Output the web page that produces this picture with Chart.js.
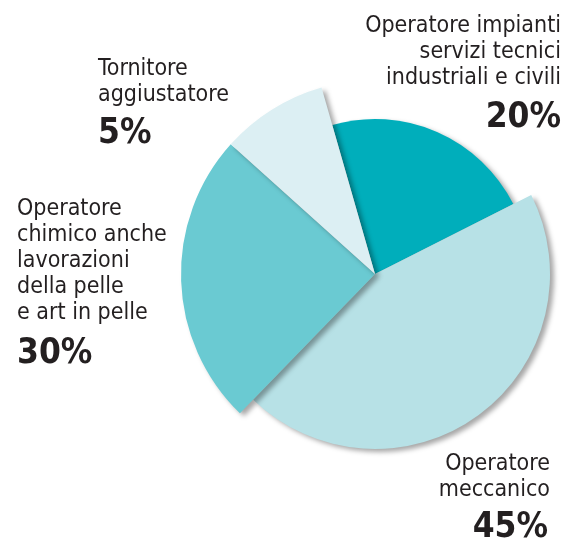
<!DOCTYPE html>
<html>
<head>
<meta charset="utf-8">
<script src="https://cdn.jsdelivr.net/npm/chart.js@4"></script>
<style>
  html, body { margin: 0; padding: 0; background: #fff; }
  #wrap { width: 569px; height: 541px; }
</style>
</head>
<body>
<div id="wrap"><canvas id="pieChart"></canvas></div>
<script>
// slices, clockwise starting near the top
const categories = [
  "Operatore impianti servizi tecnici industriali e civili",
  "Operatore meccanico",
  "Operatore chimico anche lavorazioni della pelle e art in pelle",
  "Tornitore aggiustatore"
];
// slice sizes as drawn in the picture
const sliceShares = [22, 44.7, 24.4, 8.9];
// printed percentages
const percentLabels = ["20%", "45%", "30%", "5%"];
// label text lines
const labelLines = [
  ["Operatore impianti", "servizi tecnici", "industriali e civili"],
  ["Operatore", "meccanico"],
  ["Operatore", "chimico anche", "lavorazioni", "della pelle", "e art in pelle"],
  ["Tornitore", "aggiustatore"]
];

const colors = ["#00aebb", "#b7e1e6", "#6acad2", "#dceff3"];
const radiusFactor = [155 / 194, 175 / 194, 1, 1];

// where each text block goes (x, first baseline, align, percent baseline)
const labelLayout = [
  { x: 561, y: 32, align: "right", py: 127 },
  { x: 550, y: 470, align: "right", py: 537, px: 548 },
  { x: 17, y: 215, align: "left", py: 363 },
  { x: 98, y: 75, align: "left", py: 143 }
];
const lineGap = 26;
const textFont = '23px "DejaVu Sans Condensed", "DejaVu Sans", sans-serif';
const pctFont = 'bold 35px "DejaVu Sans Condensed", "DejaVu Sans", sans-serif';

// each slice gets its own outer radius
const radiusPlugin = {
  id: "sliceRadius",
  afterDatasetUpdate(chart, args) {
    const meta = chart.getDatasetMeta(args.index);
    meta.data.forEach((arc, i) => {
      arc.outerRadius = arc.outerRadius * radiusFactor[i];
    });
  }
};

// soft drop shadow under the slices
const shadowPlugin = {
  id: "sliceShadow",
  beforeDatasetsDraw(chart) {
    const ctx = chart.ctx;
    ctx.save();
    ctx.shadowColor = "rgba(0,0,0,0.35)";
    ctx.shadowBlur = 5;
    ctx.shadowOffsetX = 4;
    ctx.shadowOffsetY = 3;
  },
  afterDatasetsDraw(chart) {
    chart.ctx.restore();
  }
};

const textPlugin = {
  id: "sliceText",
  afterDraw(chart) {
    const ctx = chart.ctx;
    ctx.save();
    ctx.fillStyle = "#231f20";
    ctx.textBaseline = "alphabetic";
    labelLines.forEach((lines, i) => {
      const pos = labelLayout[i];
      ctx.textAlign = pos.align;
      ctx.font = textFont;
      lines.forEach((line, j) => {
        ctx.fillText(line, pos.x, pos.y + j * lineGap);
      });
      ctx.font = pctFont;
      ctx.fillText(percentLabels[i], pos.px || pos.x, pos.py);
    });
    ctx.restore();
  }
};

new Chart(document.getElementById("pieChart").getContext("2d"), {
  type: "pie",
  data: {
    labels: categories,
    datasets: [{
      data: sliceShares,
      backgroundColor: colors,
      borderWidth: 0,
      hoverOffset: 0,
      clip: false
    }]
  },
  options: {
    responsive: true,
    maintainAspectRatio: false,
    animation: false,
    events: [],
    rotation: -16,
    layout: { padding: { left: 181, right: 0, top: 80, bottom: 73 } },
    plugins: {
      legend: { display: false },
      tooltip: { enabled: false }
    }
  },
  plugins: [radiusPlugin, shadowPlugin, textPlugin]
});
</script>
</body>
</html>
